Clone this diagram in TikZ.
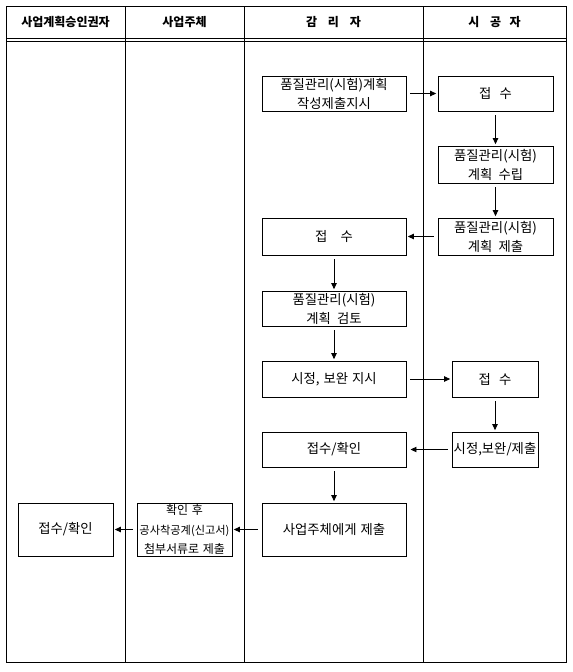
\documentclass[tikz,border=0pt]{standalone}
\usepackage{fontspec}
\setmainfont{Noto Sans CJK KR}
\usetikzlibrary{arrows.meta}
\begin{document}
\begin{tikzpicture}[x=0.75pt,y=-0.75pt,
  lane/.style={line width=0.7pt},
  box/.style={draw,line width=0.7pt,inner sep=0pt,align=center,font=\fontsize{10}{14.25}\selectfont},
  head/.style={font=\fontsize{9}{11}\selectfont\bfseries},
  flow/.style={line width=0.7pt,-{Triangle[length=4.5pt,width=4pt]},shorten <=3pt,shorten >=1pt}]
\useasboundingbox (0,0) rectangle (573,672);
% table
\draw[lane] (6,6) rectangle (566,662);
\draw[lane] (6,38) -- (566,38) (6,41) -- (566,41);
\draw[lane] (125,6) -- (125,662) (244,6) -- (244,662) (423,6) -- (423,662);
% headers
\node[head] (h1) at (65.5,22) {사업계획승인권자};
\node[head] (h2) at (184.5,22) {사업주체};
\node[head] (h3) at (333.5,22) {감\hspace{0.9em}리\hspace{0.9em}자};
\node[head] (h4) at (494.5,22) {시\hspace{0.9em}공\hspace{0.7em}자};
% boxes
\node[box,minimum width=108pt,minimum height=26.25pt] (a) at (334,93.5) {품질관리(시험)계획\\작성제출지시};
\node[box,minimum width=86.25pt,minimum height=26.25pt] (b) at (495.5,93.5) {접\hspace{0.6em}수};
\node[box,minimum width=86.25pt,minimum height=27.75pt] (c) at (495.5,164.5) {품질관리(시험)\\계획\hspace{0.45em}수립};
\node[box,minimum width=86.25pt,minimum height=27.75pt] (d) at (495.5,236.5) {품질관리(시험)\\계획\hspace{0.45em}제출};
\node[box,minimum width=108pt,minimum height=27.75pt] (e) at (334,236.5) {접\hspace{1em}수};
\node[box,minimum width=108pt,minimum height=26.25pt] (f) at (334,308.5) {품질관리(시험)\\계획\hspace{0.45em}검토};
\node[box,minimum width=108pt,minimum height=27pt] (g) at (334,379) {시정,\hspace{0.3em}보완\hspace{0.3em}지시};
\node[box,minimum width=64.5pt,minimum height=27pt] (hh) at (495,379) {접\hspace{0.6em}수};
\node[box,minimum width=64.5pt,minimum height=26.25pt] (i) at (495,449.5) {시정,보완/제출};
\node[box,minimum width=108pt,minimum height=26.25pt] (j) at (334,449.5) {접수/확인};
\node[box,minimum width=108pt,minimum height=39.75pt] (k) at (334,529.5) {사업주체에게\hspace{0.3em}제출};
\node[box,minimum width=71.25pt,minimum height=39.75pt,font=\fontsize{9}{14.6}\selectfont] (l) at (184.5,529.5) {확인\hspace{0.3em}후\\{\fontsize{8.4}{14.6}\selectfont 공사착공계(신고서)}\\첨부서류로\hspace{0.3em}제출};
\node[box,minimum width=71.25pt,minimum height=39.75pt] (m) at (65.5,529.5) {접수/확인};
% arrows
\draw[flow] (a) -- (b);
\draw[flow] (b) -- (c);
\draw[flow] (c) -- (d);
\draw[flow] (d) -- (e);
\draw[flow] (e) -- (f);
\draw[flow] (f) -- (g);
\draw[flow] (g) -- (hh);
\draw[flow] (hh) -- (i);
\draw[flow,shorten >=3pt] (i) -- (j);
\draw[flow] (j) -- (k);
\draw[flow] (k) -- (l);
\draw[flow] (l) -- (m);
\end{tikzpicture}
\end{document}
